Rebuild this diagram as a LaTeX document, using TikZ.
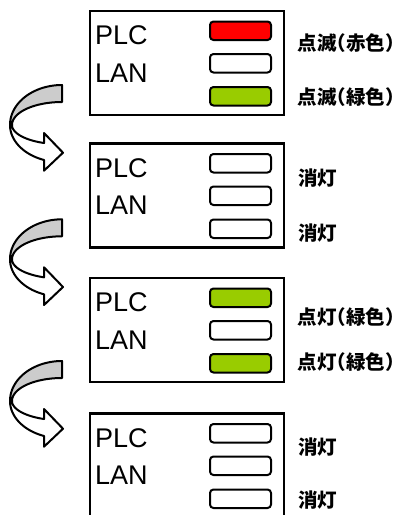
\documentclass[tikz,border=0pt]{standalone}
\usepackage{fontspec}
\setmainfont{Liberation Sans}
\newfontfamily\jpfont{Noto Sans CJK JP}[RawFeature=+halt]
\definecolor{ledgreen}{HTML}{99CC00}
\definecolor{ledred}{HTML}{FF0000}
\definecolor{arrowgray}{HTML}{CCCCCC}
\begin{document}
\begin{tikzpicture}[x=1pt,y=-1pt,
  frame/.style={draw=black,line width=2.6pt,fill=white,inner sep=0pt,outer sep=0pt},
  led/.style={draw=black,line width=2pt,rounded corners=3.5pt,minimum width=61pt,minimum height=18.5pt,inner sep=0pt},
  lbl/.style={anchor=base west,inner sep=0pt,font=\fontsize{27}{27}\selectfont},
  jlbl/.style={anchor=west,inner sep=0pt,font=\jpfont\bfseries\fontsize{19.5}{19.5}\selectfont},
  arw/.style={draw=black,line width=2pt,line join=round},
  curv/.pic={
    \filldraw[arw,fill=white] plot[domain=180:111,samples=30,variable=\a] ({50*cos(\a)},{40+19.3*sin(\a)})
      -- (-18,48) -- (1,67.7) -- (-18,85.7) -- (-18,75)
      -- plot[domain=110.3:180,samples=30,variable=\a] ({52*cos(\a)},{40+37.3*sin(\a)}) -- cycle;
    \filldraw[arw,fill=arrowgray] plot[domain=-90:-180,samples=30,variable=\a] ({52*cos(\a)},{40+40*sin(\a)})
      -- plot[domain=180:270,samples=30,variable=\a] ({50*cos(\a)},{40+23*sin(\a)}) -- cycle;
  }]
\useasboundingbox (0,0) rectangle (406,515);
\clip (0,0) rectangle (406,515);
\foreach \i/\t/\ca/\cb/\cc in {1/11/ledred/white/ledgreen, 2/143.5/white/white/white, 3/278/ledgreen/white/ledgreen, 4/413.5/white/white/white} {
  \node[frame,anchor=north west,minimum width=194pt,minimum height=104pt] (box\i) at (90,\t) {};
  \node[led,fill=\ca] (ledp\i) at (240.5,\t+19.75) {};
  \node[led,fill=\cb] (ledl\i) at (240.5,\t+52.25) {};
  \node[led,fill=\cc] (ledx\i) at (240.5,\t+85.25) {};
  \node[lbl] (plc\i) at (95,\t+33.5) {PLC};
  \node[lbl] (lan\i) at (95,\t+71) {LAN};
}
\node[jlbl] (s1a) at (297.5,43.3) {点滅（赤色）};
\node[jlbl] (s1b) at (297.5,97) {点滅（緑色）};
\node[jlbl] (s2a) at (298,177.7) {消灯};
\node[jlbl] (s2b) at (298,232.7) {消灯};
\node[jlbl] (s3a) at (297.5,317) {点灯（緑色）};
\node[jlbl] (s3b) at (297.5,362) {点灯（緑色）};
\node[jlbl] (s4a) at (298,446.7) {消灯};
\node[jlbl] (s4b) at (298,500) {消灯};
\pic at (62,85) {curv};
\pic at (62,219.3) {curv};
\pic at (62,361) {curv};
\end{tikzpicture}
\end{document}
